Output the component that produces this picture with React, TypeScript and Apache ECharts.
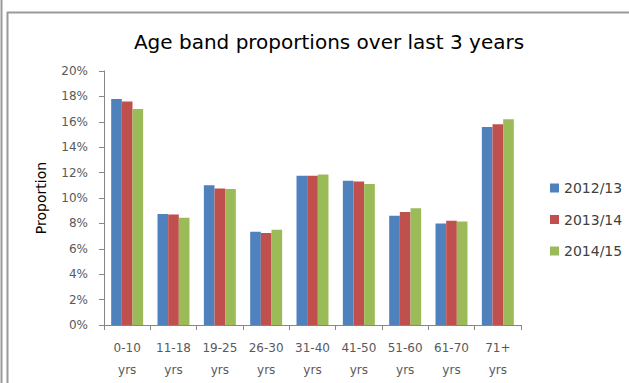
import React, { useEffect, useRef } from "react";
import * as echarts from "echarts";

const categories = ["0-10 yrs", "11-18 yrs", "19-25 yrs", "26-30 yrs", "31-40 yrs", "41-50 yrs", "51-60 yrs", "61-70 yrs", "71+ yrs"];
const seriesNames = ["2012/13", "2013/14", "2014/15"];
const values2012 = [17.8, 8.75, 11.0, 7.35, 11.75, 11.35, 8.6, 8.0, 15.6];
const values2013 = [17.6, 8.7, 10.75, 7.25, 11.75, 11.3, 8.9, 8.2, 15.8];
const values2014 = [17.0, 8.45, 10.7, 7.5, 11.85, 11.1, 9.2, 8.15, 16.2];
const colors = ["#4F81BD", "#C0504D", "#9BBB59"];

export default function App() {
  const ref = useRef<HTMLDivElement>(null);
  useEffect(() => {
    const chart = echarts.init(ref.current!, null, { renderer: "svg" });
    const font = "'DejaVu Sans', Verdana, sans-serif";
    const dataSets = [values2012, values2013, values2014];
    chart.setOption({
      animation: false,
      backgroundColor: "#ffffff",
      textStyle: { fontFamily: font },
      title: {
        text: "Age band proportions over last 3 years",
        left: 324,
        top: 27,
        textAlign: "center",
        textStyle: { fontFamily: font, fontSize: 20, fontWeight: "normal", color: "#000000" },
      },
      legend: {
        orient: "vertical",
        left: 550,
        top: 181,
        padding: 0,
        itemWidth: 9,
        itemHeight: 9,
        itemGap: 17.5,
        icon: "rect",
        textStyle: { fontFamily: font, fontSize: 14, color: "#404040" },
        data: seriesNames,
      },
      grid: { left: 104, right: 108, top: 71, bottom: 58, containLabel: false },
      xAxis: {
        type: "category",
        data: categories,
        axisLine: { lineStyle: { color: "#868686" } },
        axisTick: { show: true, alignWithLabel: false, length: 5, lineStyle: { color: "#868686" } },
        axisLabel: {
          interval: 0,
          margin: 12,
          fontFamily: font,
          fontSize: 12,
          color: "#595959",
          lineHeight: 22,
          formatter: (v: string) => v.replace(" ", "\n"),
        },
      },
      yAxis: {
        type: "value",
        min: 0,
        max: 20,
        interval: 2,
        name: "Proportion",
        nameLocation: "middle",
        nameGap: 56,
        nameRotate: 90,
        nameTextStyle: { fontFamily: font, fontSize: 14, color: "#000000" },
        axisLine: { show: true, lineStyle: { color: "#868686" } },
        axisTick: { show: true, length: 5, lineStyle: { color: "#868686" } },
        splitLine: { show: false },
        axisLabel: {
          margin: 16,
          fontFamily: font,
          fontSize: 12,
          color: "#595959",
          formatter: (v: number) => v + "%",
        },
      },
      series: seriesNames.map((name, i) => ({
        name,
        type: "bar",
        data: dataSets[i],
        barGap: "0%",
        barCategoryGap: "31%",
        itemStyle: { color: colors[i] },
      })),
      graphic: [
        { type: "line", shape: { x1: 1.5, y1: 0, x2: 1.5, y2: 383 }, style: { stroke: "#9a9a9a", lineWidth: 2 } },
        { type: "line", shape: { x1: 7.5, y1: 12, x2: 7.5, y2: 383 }, style: { stroke: "#9a9a9a", lineWidth: 2 } },
        { type: "line", shape: { x1: 7, y1: 12.5, x2: 629, y2: 12.5 }, style: { stroke: "#9a9a9a", lineWidth: 2 } },
      ],
    });
    return () => chart.dispose();
  }, []);
  return (
    <div
      ref={ref}
      style={{ position: "fixed", left: 0, top: 0, width: 629, height: 383 }}
    />
  );
}
